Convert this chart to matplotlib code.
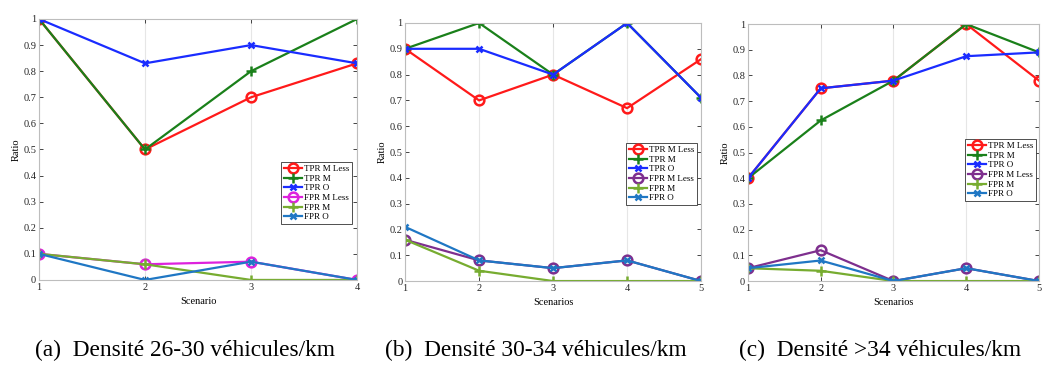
import matplotlib.pyplot as plt
from matplotlib.ticker import FormatStrFormatter, MultipleLocator

plt.rcParams['font.family'] = ['Liberation Serif', 'DejaVu Serif']

series_names = ["TPR M Less", "TPR M", "TPR O", "FPR M Less", "FPR M", "FPR O"]

# densité 26-30 véhicules/km
x_a = [1, 2, 3, 4]
tpr_m_less_a = [1.0, 0.5, 0.7, 0.83]
tpr_m_a = [1.0, 0.5, 0.8, 1.0]
tpr_o_a = [1.0, 0.83, 0.9, 0.83]
fpr_m_less_a = [0.1, 0.06, 0.07, 0.0]
fpr_m_a = [0.1, 0.06, 0.0, 0.0]
fpr_o_a = [0.1, 0.0, 0.07, 0.0]

# densité 30-34 véhicules/km
x_b = [1, 2, 3, 4, 5]
tpr_m_less_b = [0.9, 0.7, 0.8, 0.67, 0.86]
tpr_m_b = [0.9, 1.0, 0.8, 1.0, 0.71]
tpr_o_b = [0.9, 0.9, 0.8, 1.0, 0.71]
fpr_m_less_b = [0.16, 0.08, 0.05, 0.08, 0.0]
fpr_m_b = [0.16, 0.04, 0.0, 0.0, 0.0]
fpr_o_b = [0.21, 0.08, 0.05, 0.08, 0.0]

# densité >34 véhicules/km
x_c = [1, 2, 3, 4, 5]
tpr_m_less_c = [0.4, 0.75, 0.78, 1.0, 0.78]
tpr_m_c = [0.4, 0.625, 0.78, 1.0, 0.89]
tpr_o_c = [0.4, 0.75, 0.78, 0.875, 0.89]
fpr_m_less_c = [0.05, 0.12, 0.0, 0.05, 0.0]
fpr_m_c = [0.05, 0.04, 0.0, 0.0, 0.0]
fpr_o_c = [0.05, 0.08, 0.0, 0.05, 0.0]

captions = ["(a)  Densité 26-30 véhicules/km",
            "(b)  Densité 30-34 véhicules/km",
            "(c)  Densité >34 véhicules/km"]
xlabels = ["Scenario", "Scenarios", "Scenarios"]

markers = ['o', '+', 'x', 'o', '+', 'x']
msizes = {'o': 7, '+': 7.5, 'x': 5}

fig = plt.figure(figsize=(10.48, 3.65), dpi=100)

# axes rect, x values, series, FPR M Less colour, legend corner, caption centre
panels = [
    ([0.0372, 0.233, 0.3035, 0.715], x_a,
     [tpr_m_less_a, tpr_m_a, tpr_o_a, fpr_m_less_a, fpr_m_a, fpr_o_a],
     '#dd22dd', (0.3359, 0.556), 0.1765),
    ([0.3865, 0.230, 0.2825, 0.707], x_b,
     [tpr_m_less_b, tpr_m_b, tpr_o_b, fpr_m_less_b, fpr_m_b, fpr_o_b],
     '#7E2F8E', (0.665, 0.608), 0.5115),
    ([0.7137, 0.230, 0.2777, 0.704], x_c,
     [tpr_m_less_c, tpr_m_c, tpr_o_c, fpr_m_less_c, fpr_m_c, fpr_o_c],
     '#7E2F8E', (0.9885, 0.619), 0.8397),
]

for i, (rect, xs, ys, purple, leg_pos, cap_x) in enumerate(panels):
    ax = fig.add_axes(rect)
    colors = ['#ff1a1a', '#1a801a', '#1a2cff', purple, '#77AC30', '#1f77c4']
    for name, y, c, m in zip(series_names, ys, colors, markers):
        ax.plot(xs, y, color=c, lw=1.6, marker=m, ms=msizes[m],
                mew=1.8, mfc='none', label=name)
    ax.set_xlim(xs[0], xs[-1])
    ax.set_ylim(0, 1)
    ax.set_xticks(xs)
    ax.yaxis.set_major_locator(MultipleLocator(0.1))
    ax.yaxis.set_major_formatter(FormatStrFormatter('%g'))
    ax.grid(axis='x', color='#e6e6e6', lw=0.8)
    ax.tick_params(direction='in', length=3, width=0.6, labelsize=7.5,
                   top=True, right=True, colors='#262626', pad=2)
    for s in ax.spines.values():
        s.set_color('#bdbdbd')
        s.set_linewidth(0.8)
    ax.set_ylabel("Ratio", fontsize=7.5, labelpad=2)
    ax.set_xlabel(xlabels[i], fontsize=7.5, labelpad=4)
    leg = ax.legend(loc='upper right', bbox_to_anchor=leg_pos,
                    bbox_transform=fig.transFigure, fontsize=6.5,
                    handlelength=2.0, handletextpad=0.2, labelspacing=0.15,
                    borderpad=0.3, borderaxespad=0, fancybox=False,
                    framealpha=1)
    leg.get_frame().set_edgecolor('#333333')
    leg.get_frame().set_linewidth(0.6)
    fig.text(cap_x, 0.025, captions[i], ha='center', va='baseline',
             fontsize=16.8)

fig.savefig('out.png', dpi=100)
